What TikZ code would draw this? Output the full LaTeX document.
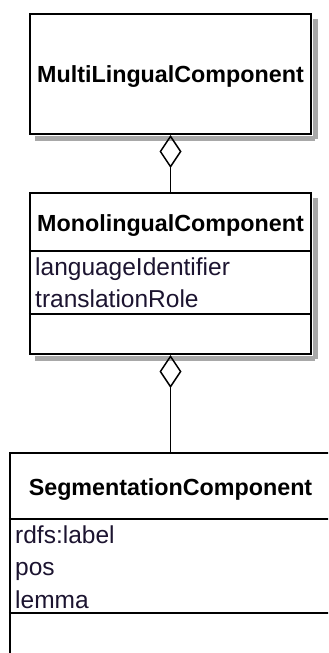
\documentclass[tikz,border=0pt]{standalone}
\usepackage{fontspec}
\setmainfont{Liberation Sans}
\usetikzlibrary{arrows.meta}
\definecolor{attrcol}{HTML}{1C1430}
\definecolor{shadowcol}{HTML}{A8A8A8}
\begin{document}
\begin{tikzpicture}[x=1bp,y=-1bp,
  classbox/.style={draw=black,line width=2bp,fill=white,rectangle,inner sep=0},
  boxshadow/.style={fill=shadowcol,draw=none},
  title/.style={font=\bfseries\fontsize{23.3bp}{28bp}\selectfont,anchor=base,inner sep=0},
  attr/.style={font=\fontsize{24.5bp}{29bp}\selectfont,text=attrcol,anchor=base west,inner sep=0},
  divider/.style={line width=1.5bp},
  aggr/.style={line width=1.5bp,-{Diamond[open,length=33bp,width=22bp]}}]
\fill[white] (0,0) rectangle (328,653);
\useasboundingbox (0,0) rectangle (328,653);
% boxes
\node[classbox,minimum width=281bp,minimum height=120bp] (multi) at (170.5,74) {};
\node[classbox,minimum width=281bp,minimum height=161bp] (mono) at (170.5,273.5) {};
% shadows (right and bottom strips)
\fill[boxshadow] ([xshift=1bp]multi.north east) ++(0,6) rectangle ++(5,120);
\fill[boxshadow] ([yshift=-1bp]multi.south west) ++(6,0) rectangle ++(280,5);
\fill[boxshadow] ([xshift=1bp]mono.north east) ++(0,6) rectangle ++(5,161);
\fill[boxshadow] ([yshift=-1bp]mono.south west) ++(6,0) rectangle ++(280,5);
\begin{scope}
\clip (0,0) rectangle (328,653);
\node[classbox,minimum width=321bp,minimum height=227bp] (seg) at (170.5,566.5) {};
\draw[divider] (seg.west |- 0,519) -- (seg.east |- 0,519);
\draw[divider] (seg.west |- 0,613) -- (seg.east |- 0,613);
\end{scope}
% titles
\node[title] (multiT) at (170.5,83) {MultiLingualComponent};
\node[title] (monoT) at (170.5,231.5) {MonolingualComponent};
\node[title] (segT) at (170.5,495) {SegmentationComponent};
% dividers
\draw[divider] (mono.west |- 0,251) -- (mono.east |- 0,251);
\draw[divider] (mono.west |- 0,314) -- (mono.east |- 0,314);
% attributes
\node[attr] (a1) at (35,275) {languageIdentifier};
\node[attr] (a2) at (35,307) {translationRole};
\node[attr] (b1) at (15,543) {rdfs:label};
\node[attr] (b2) at (15,575.5) {pos};
\node[attr] (b3) at (15,608) {lemma};
% aggregations
\draw[aggr] (mono.north) -- (multi.south);
\draw[aggr] (seg.north) -- (mono.south);
\end{tikzpicture}
\end{document}
